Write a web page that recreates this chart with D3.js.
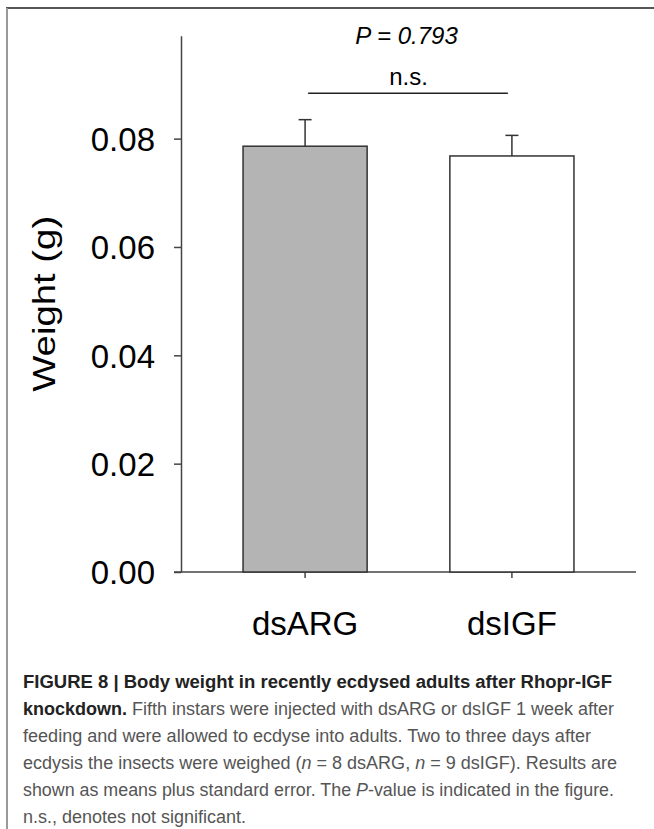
<!DOCTYPE html>
<html>
<head>
<meta charset="utf-8">
<script src="https://d3js.org/d3.v7.min.js"></script>
<style>
  body { margin: 0; background: #fff; }
  svg { display: block; }
</style>
</head>
<body>
<div class="chart"></div>
<script>
// datos
var groups = ["dsARG", "dsIGF"];
var means = [0.0786, 0.0768];
var errors = [0.0049, 0.0038];
var fills = ["#b4b4b4", "#ffffff"];
var yTicks = [0, 0.02, 0.04, 0.06, 0.08];
var pText = "P = 0.793";
var sigText = "n.s.";

var w = 654;
var h = 829;
var font = "'Liberation Sans', Arial, sans-serif";

var svg = d3.select(".chart")
  .append("svg")
  .attr("width", w)
  .attr("height", h)
  .style("background", "#FFFFFF");

// marco de la figura (arriba e izquierda)
svg.append("line")
  .attr("x1", 6).attr("x2", w).attr("y1", 8).attr("y2", 8)
  .attr("stroke", "#555").attr("stroke-width", 2);
svg.append("line")
  .attr("x1", 7).attr("x2", 7).attr("y1", 8).attr("y2", h)
  .attr("stroke", "#999").attr("stroke-width", 2);

// escalas
var y = d3.scaleLinear()
  .domain([0, 0.099])
  .range([572, 35.7]);

var x = d3.scaleBand()
  .domain(groups)
  .range([181, 636])
  .paddingInner(0.4)
  .paddingOuter(0.3);

// eje y
var yAxis = svg.append("g")
  .attr("transform", "translate(181,0)")
  .call(d3.axisLeft(y).tickValues(yTicks).tickFormat(d3.format(".2f")).tickSize(7).tickSizeOuter(0).tickPadding(19));
yAxis.select(".domain").attr("stroke", "#444").attr("stroke-width", 1.5);
yAxis.selectAll(".tick line").attr("stroke", "#444").attr("stroke-width", 1.5);
yAxis.selectAll(".tick text")
  .attr("font-family", font)
  .attr("font-size", 33)
  .attr("fill", "#000")
  .attr("dy", "0.36em");

// eje x
var xAxis = svg.append("g")
  .attr("transform", "translate(0," + y(0) + ")")
  .call(d3.axisBottom(x).tickSize(6).tickSizeOuter(0).tickPadding(34));
xAxis.select(".domain")
  .attr("d", "M174,0H636")
  .attr("stroke", "#444").attr("stroke-width", 1.5);
xAxis.selectAll(".tick line").attr("stroke", "#444").attr("stroke-width", 1.5);
xAxis.selectAll(".tick text")
  .attr("font-family", font)
  .attr("font-size", 33)
  .attr("fill", "#000")
  .attr("dy", "0.71em");

// titulo del eje y
svg.append("text")
  .attr("transform", "translate(55," + ((y(0) + y(0.099)) / 2) + ") rotate(-90)")
  .attr("text-anchor", "middle")
  .attr("font-family", font)
  .attr("font-size", 32)
  .attr("textLength", 176)
  .attr("lengthAdjust", "spacingAndGlyphs")
  .text("Weight (g)");

// barras
var g = svg.selectAll(".bar")
  .data(groups)
  .enter()
  .append("g")
  .attr("class", "bar");

g.append("rect")
  .attr("x", function(d) { return x(d); })
  .attr("y", function(d, i) { return y(means[i]); })
  .attr("width", x.bandwidth())
  .attr("height", function(d, i) { return y(0) - y(means[i]); })
  .attr("fill", function(d, i) { return fills[i]; })
  .attr("stroke", "#333")
  .attr("stroke-width", 1.5);

// barras de error (solo hacia arriba)
g.append("line")
  .attr("x1", function(d) { return x(d) + x.bandwidth() / 2; })
  .attr("x2", function(d) { return x(d) + x.bandwidth() / 2; })
  .attr("y1", function(d, i) { return y(means[i]); })
  .attr("y2", function(d, i) { return y(means[i] + errors[i]); })
  .attr("stroke", "#333")
  .attr("stroke-width", 1.5);
g.append("line")
  .attr("x1", function(d) { return x(d) + x.bandwidth() / 2 - 6.5; })
  .attr("x2", function(d) { return x(d) + x.bandwidth() / 2 + 6.5; })
  .attr("y1", function(d, i) { return y(means[i] + errors[i]); })
  .attr("y2", function(d, i) { return y(means[i] + errors[i]); })
  .attr("stroke", "#333")
  .attr("stroke-width", 1.5);

// linea de comparacion y textos
var cx1 = x(groups[0]) + x.bandwidth() / 2;
var cx2 = x(groups[1]) + x.bandwidth() / 2;
svg.append("line")
  .attr("x1", cx1 + 3).attr("x2", cx2 - 4)
  .attr("y1", 93.3).attr("y2", 93.3)
  .attr("stroke", "#222").attr("stroke-width", 1.5);
svg.append("text")
  .attr("x", (cx1 + cx2) / 2)
  .attr("y", 85)
  .attr("text-anchor", "middle")
  .attr("font-family", font)
  .attr("font-size", 24)
  .text(sigText);
svg.append("text")
  .attr("x", (cx1 + cx2) / 2 - 2)
  .attr("y", 44)
  .attr("text-anchor", "middle")
  .attr("font-family", font)
  .attr("font-size", 24)
  .attr("font-style", "italic")
  .text(pText);

// pie de figura (cada linea con su ancho medido)
var caption = [
  [["FIGURE 8 | Body weight in recently ecdysed adults after Rhopr-IGF", "b"]],
  [["knockdown.", "b"], [" Fifth instars were injected with dsARG or dsIGF 1 week after", ""]],
  [["feeding and were allowed to ecdyse into adults. Two to three days after", ""]],
  [["ecdysis the insects were weighed (", ""], ["n", "i"], [" = 8 dsARG, ", ""], ["n", "i"], [" = 9 dsIGF). Results are", ""]],
  [["shown as means plus standard error. The ", ""], ["P", "i"], ["-value is indicated in the figure.", ""]],
  [["n.s., denotes not significant.", ""]]
];
var captionWidths = [589, 591, 568, 594, 591, 223];

var cap = svg.selectAll(".cap")
  .data(caption)
  .enter()
  .append("text")
  .attr("class", "cap")
  .attr("x", 23)
  .attr("y", function(d, i) { return 688 + i * 27; })
  .attr("font-family", font)
  .attr("font-size", 17.5)
  .attr("fill", "#555")
  .attr("textLength", function(d, i) { return captionWidths[i]; })
  .attr("lengthAdjust", "spacingAndGlyphs");

cap.selectAll("tspan")
  .data(function(d) { return d; })
  .enter()
  .append("tspan")
  .attr("font-weight", function(d) { return d[1] == "b" ? "bold" : null; })
  .attr("font-style", function(d) { return d[1] == "i" ? "italic" : null; })
  .attr("fill", function(d) { return d[1] == "b" ? "#222" : null; })
  .attr("xml:space", "preserve")
  .text(function(d) { return d[0]; });
</script>
</body>
</html>
